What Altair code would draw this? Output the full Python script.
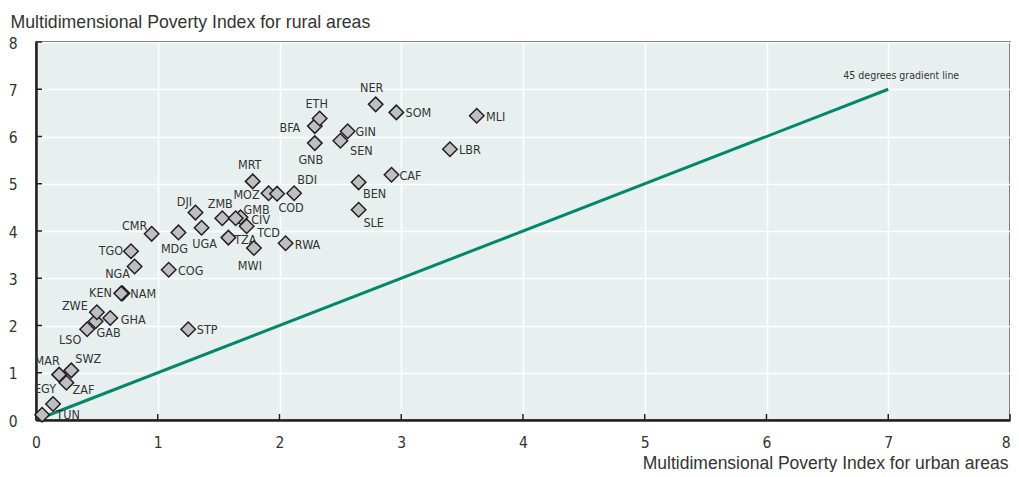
import altair as alt
import pandas as pd

# ---- data ----
countries = ["TUN", "EGY", "MAR", "SWZ", "ZAF", "LSO", "GAB", "ZWE", "GHA", "KEN",
             "NAM", "NGA", "TGO", "CMR", "MDG", "COG", "DJI", "UGA", "ZMB", "GMB",
             "CIV", "TCD", "TZA", "MWI", "MRT", "MOZ", "COD", "BDI", "RWA", "STP",
             "BFA", "ETH", "GNB", "GIN", "SEN", "NER", "SOM", "MLI", "LBR", "CAF",
             "BEN", "SLE"]
urban = [0.05, 0.14, 0.19, 0.29, 0.25, 0.42, 0.49, 0.50, 0.61, 0.71,
         0.70, 0.81, 0.78, 0.95, 1.17, 1.09, 1.31, 1.36, 1.53, 1.68,
         1.64, 1.73, 1.58, 1.79, 1.78, 1.91, 1.98, 2.12, 2.05, 1.25,
         2.29, 2.33, 2.29, 2.56, 2.50, 2.79, 2.96, 3.62, 3.40, 2.92,
         2.65, 2.65]
rural = [0.11, 0.34, 0.96, 1.05, 0.79, 1.92, 2.09, 2.28, 2.16, 2.68,
         2.68, 3.25, 3.57, 3.94, 3.97, 3.18, 4.39, 4.07, 4.27, 4.29,
         4.27, 4.10, 3.86, 3.64, 5.05, 4.80, 4.79, 4.80, 3.74, 1.92,
         6.22, 6.38, 5.86, 6.11, 5.91, 6.68, 6.51, 6.44, 5.73, 5.19,
         5.03, 4.45]

# label placement relative to each marker (pixels)
label_dx = [26, -8, -12, 17, 17, -17, 13, -22, 23, -22,
            22, -17, -20, -17, -4, 22, -11, 3, -2, 16,
            25, 22, 17, -4, -3, -22, 14, 13, 22, 19,
            -25, -3, -4, 18, 21, -4, 22, 19, 20, 19,
            16, 15]
label_dy = [0, -15, -14, -11, 7, 11, 12, -6, 2, 0,
            1, 8, 0, -8, 17, 1, -11, 16, -14, -7,
            2, 7, 2, 18, -16, 2, 14, -13, 2, 1,
            2, -15, 17, 1, 10, -16, 1, 1, 1, 1,
            12, 13]

line_x = [0, 7]
line_y = [0, 7]
line_label = "45 degrees gradient line"
tick_values = [0, 1, 2, 3, 4, 5, 6, 7, 8]

X_TITLE = "Multidimensional Poverty Index for urban areas"
Y_TITLE = "Multidimensional Poverty Index for rural areas"

W, H = 974, 378
NARROW = "'DejaVu Sans Condensed', 'Liberation Sans', sans-serif"
REG = "'Liberation Sans', Arial, sans-serif"
TXT = "#333333"

df = pd.DataFrame({"country": countries, "urban": urban, "rural": rural,
                   "ldx": label_dx, "ldy": label_dy})
df_line = pd.DataFrame({"urban": line_x, "rural": line_y})
df_lab = pd.DataFrame({"urban": [line_x[1]], "rural": [line_y[1]], "t": [line_label]})
df_ticks = pd.DataFrame({"v": tick_values})

xscale = alt.Scale(domain=[0, 8], nice=False, zero=False)
yscale = alt.Scale(domain=[0, 8], nice=False, zero=False)

xaxis = alt.Axis(values=tick_values, grid=True, gridColor="white", gridWidth=1.5,
                 ticks=False, domainColor="#231f20", domainWidth=2.5,
                 labelFont=NARROW, labelFontSize=15.5, labelColor=TXT, labelPadding=15,
                 labelFlush=False, labelBound=False,
                 labelAlign=alt.ExprRef(expr="datum.value == 8 ? 'right' : 'center'"),
                 title=X_TITLE, titleFont=REG, titleFontSize=17.5, titleFontWeight="normal",
                 titleColor=TXT, titleAlign="right", titleAnchor="end",
                 titleX=W - 2, titleY=48, titleBaseline="alphabetic")
yaxis = alt.Axis(values=tick_values, grid=True, gridColor="white", gridWidth=1.5,
                 ticks=False, domainColor="#231f20", domainWidth=2.5,
                 labelFont=NARROW, labelFontSize=15.5, labelColor=TXT, labelPadding=19,
                 labelFlush=False, labelBaseline="middle", labelOffset=1,
                 title=Y_TITLE, titleFont=REG, titleFontSize=17.7, titleFontWeight="normal",
                 titleColor=TXT, titleAngle=0, titleAlign="left", titleAnchor="start",
                 titleX=-26, titleY=-15, titleBaseline="alphabetic")

X = lambda f: alt.X(f, scale=xscale, axis=xaxis)
Y = lambda f: alt.Y(f, scale=yscale, axis=yaxis)

line = alt.Chart(df_line).mark_line(color="#00876c", strokeWidth=3).encode(
    x=X("urban:Q"), y=Y("rural:Q"))

line_text = alt.Chart(df_lab).mark_text(
    font=NARROW, fontSize=10.5, color=TXT, dx=13, dy=-13, align="center", baseline="middle"
).encode(x=X("urban:Q"), y=Y("rural:Q"), text="t:N")

xticks = alt.Chart(df_ticks).mark_rule(color="#231f20", strokeWidth=1.5).encode(
    x=X("v:Q"), y=alt.value(H), y2=alt.value(H - 6))
yticks = alt.Chart(df_ticks).mark_rule(color="#231f20", strokeWidth=1.5).encode(
    y=Y("v:Q"), x=alt.value(0), x2=alt.value(6))

points = alt.Chart(df).mark_point(
    shape="diamond", size=210, filled=True, fill="#bfbfc3", stroke="#231f20",
    strokeWidth=1.5, opacity=1
).encode(x=X("urban:Q"), y=Y("rural:Q"))

labels = alt.Chart(df).transform_calculate(
    lx=f"datum.urban + datum.ldx * 8 / {W}",
    ly=f"datum.rural - datum.ldy * 8 / {H}"
).mark_text(font=NARROW, fontSize=12.5, color=TXT, align="center", baseline="middle").encode(
    x=X("lx:Q"), y=Y("ly:Q"), text="country:N")

chart = alt.layer(line, xticks, yticks, points, labels, line_text).properties(
    width=W, height=H,
    autosize=alt.AutoSizeParams(type="none"),
    padding={"left": 28, "top": 34, "right": 1, "bottom": 52},
).configure_view(fill="#e8f0ef", stroke="#231f20", strokeWidth=1.5)

chart.save("out.html", embed_options={"renderer": "svg", "actions": False})
